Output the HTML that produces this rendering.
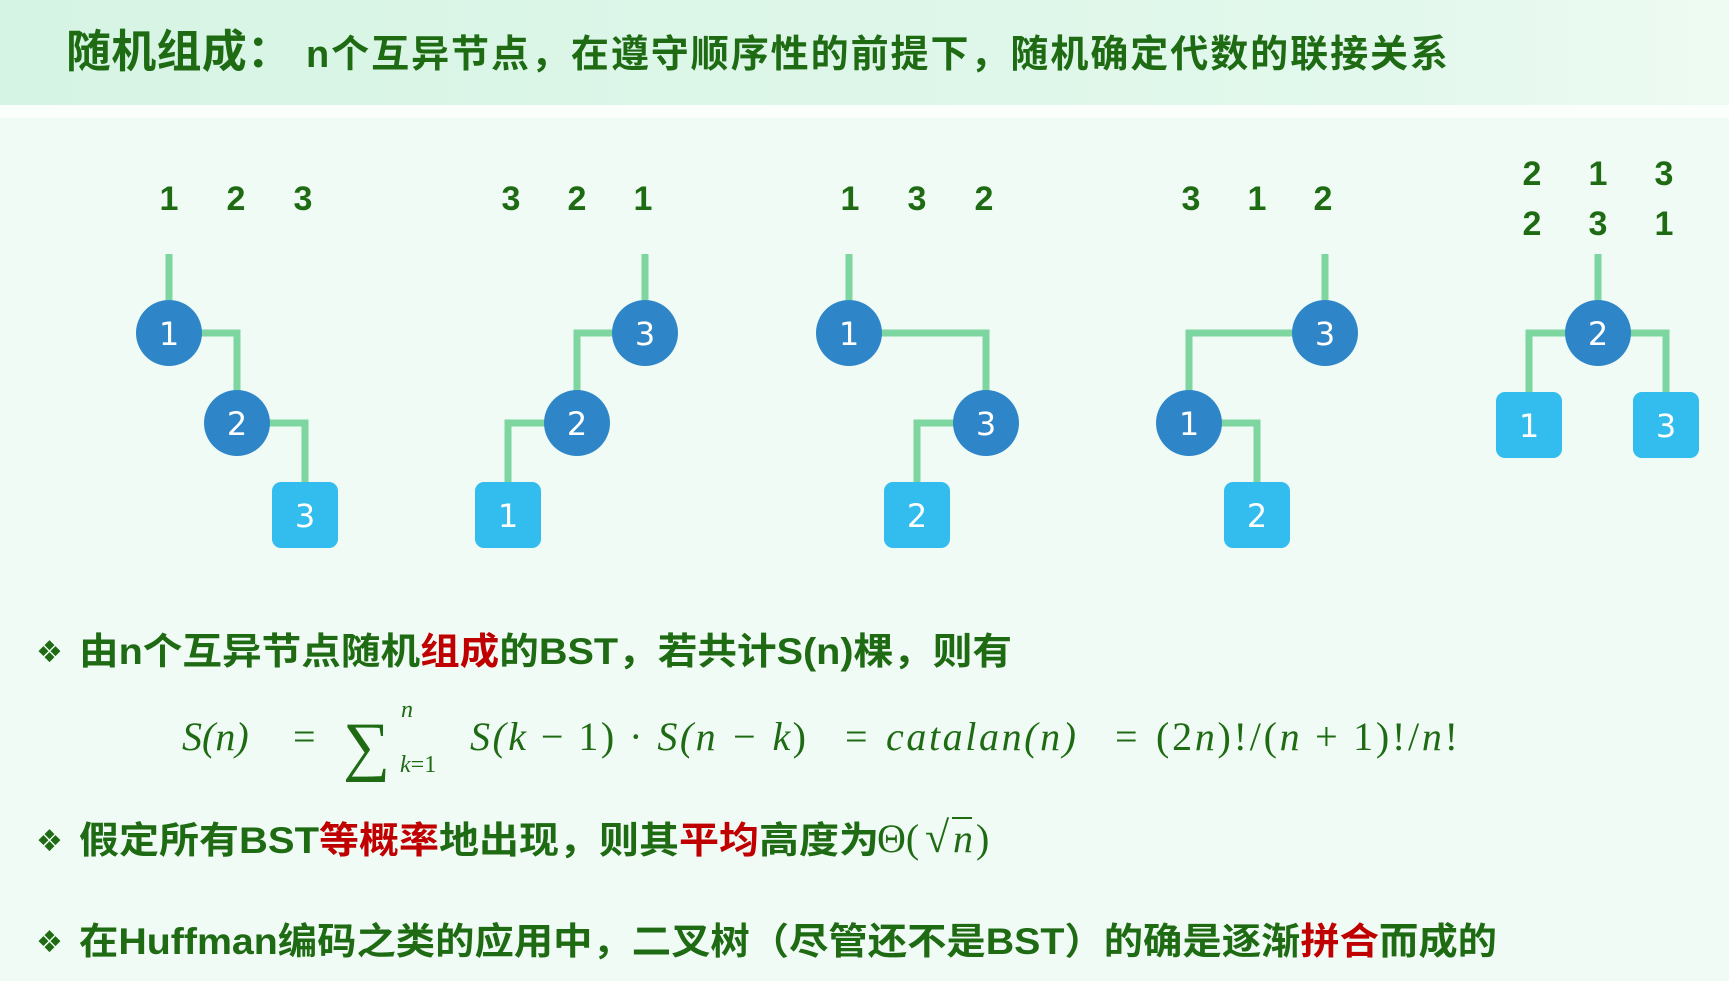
<!DOCTYPE html>
<html><head><meta charset="utf-8"><style>
html,body{margin:0;padding:0;}
body{width:1729px;height:981px;overflow:hidden;background:#f1fbf5;}
svg{display:block}
.cjk{font-family:"Liberation Sans","Noto Sans CJK SC",sans-serif;font-weight:bold;}
.g{fill:#1e6b14}
.r{fill:#c00000}
.m{font-family:"Liberation Serif","DejaVu Serif",serif;fill:#1e6b14;}
.lbl{font-family:"Liberation Sans","DejaVu Sans",sans-serif;font-weight:bold;font-size:34px;fill:#1e6b14;text-anchor:middle}
.nd{font-family:"DejaVu Sans","Liberation Sans",sans-serif;font-size:32px;fill:#fff;text-anchor:middle}
</style></head><body>
<svg width="1729" height="981" viewBox="0 0 1729 981">
<defs>
<linearGradient id="hd" x1="0" x2="1" y1="0" y2="0">
<stop offset="0" stop-color="#d6f4e4"/><stop offset="0.8" stop-color="#e2f8ec"/><stop offset="1" stop-color="#eefbf3"/>
</linearGradient>
</defs>
<rect x="0" y="0" width="1729" height="105" fill="url(#hd)"/>
<rect x="0" y="105" width="1729" height="13" fill="#fafffc"/>
<text class="cjk g" x="66" y="67"><tspan font-size="45" textLength="226">随机组成：</tspan><tspan font-size="38" x="306" textLength="1142">n个互异节点，在遵守顺序性的前提下，随机确定代数的联接关系</tspan></text>

<g stroke="#7dd6a0" stroke-width="7" fill="none">
<!-- tree1 -->
<path d="M169 254V300"/><path d="M190 333H237V395"/><path d="M258 423H305V485"/>
<!-- tree2 -->
<path d="M645 254V300"/><path d="M624 333H577V395"/><path d="M556 423H508V485"/>
<!-- tree3 -->
<path d="M849 254V300"/><path d="M870 333H986V395"/><path d="M965 423H917V485"/>
<!-- tree4 -->
<path d="M1325 254V300"/><path d="M1304 333H1189V395"/><path d="M1210 423H1257V485"/>
<!-- tree5 -->
<path d="M1598 254V300"/><path d="M1577 333H1529V395"/><path d="M1619 333H1666V395"/>
</g>

<g class="lbl">
<text x="169" y="210">1</text><text x="236" y="210">2</text><text x="303" y="210">3</text>
<text x="511" y="210">3</text><text x="577" y="210">2</text><text x="643" y="210">1</text>
<text x="850" y="210">1</text><text x="917" y="210">3</text><text x="984" y="210">2</text>
<text x="1191" y="210">3</text><text x="1257" y="210">1</text><text x="1323" y="210">2</text>
<text x="1532" y="185">2</text><text x="1598" y="185">1</text><text x="1664" y="185">3</text>
<text x="1532" y="235">2</text><text x="1598" y="235">3</text><text x="1664" y="235">1</text>
</g>

<g fill="#2e86c8">
<circle cx="169" cy="333" r="33"/><circle cx="237" cy="423" r="33"/>
<circle cx="645" cy="333" r="33"/><circle cx="577" cy="423" r="33"/>
<circle cx="849" cy="333" r="33"/><circle cx="986" cy="423" r="33"/>
<circle cx="1325" cy="333" r="33"/><circle cx="1189" cy="423" r="33"/>
<circle cx="1598" cy="333" r="33"/>
</g>
<g fill="#32bdee">
<rect x="272" y="482" width="66" height="66" rx="9"/>
<rect x="475" y="482" width="66" height="66" rx="9"/>
<rect x="884" y="482" width="66" height="66" rx="9"/>
<rect x="1224" y="482" width="66" height="66" rx="9"/>
<rect x="1496" y="392" width="66" height="66" rx="9"/>
<rect x="1633" y="392" width="66" height="66" rx="9"/>
</g>
<g class="nd">
<text x="169" y="345">1</text><text x="237" y="435">2</text><text x="305" y="527">3</text>
<text x="645" y="345">3</text><text x="577" y="435">2</text><text x="508" y="527">1</text>
<text x="849" y="345">1</text><text x="986" y="435">3</text><text x="917" y="527">2</text>
<text x="1325" y="345">3</text><text x="1189" y="435">1</text><text x="1257" y="527">2</text>
<text x="1598" y="345">2</text><text x="1529" y="437">1</text><text x="1666" y="437">3</text>
</g>

<g font-family="DejaVu Sans,sans-serif" font-size="30" fill="#1e6b14">
<text x="36" y="662">❖</text><text x="36" y="851">❖</text><text x="36" y="952">❖</text>
</g>

<text class="cjk g" x="79" y="664" font-size="37" textLength="933" lengthAdjust="spacingAndGlyphs">由n个互异节点随机<tspan class="r">组成</tspan>的BST，若共计S(n)棵，则有</text>

<g class="m" font-style="italic" font-size="40">
<text x="182" y="750">S(n)</text>
<text x="293" y="750" font-style="normal">=</text>
<text x="343" y="768" font-style="normal" font-size="66">∑</text>
<text x="401" y="717" font-size="24">n</text>
<text x="400" y="772" font-size="24">k<tspan font-style="normal">=1</tspan></text>
<text x="470" y="750" textLength="336">S(k <tspan font-style="normal">− 1) · </tspan>S(n − k<tspan font-style="normal">)</tspan></text>
<text x="845" y="750" font-style="normal">=</text>
<text x="886" y="750" textLength="190">catalan(n)</text>
<text x="1115" y="750" font-style="normal">=</text>
<text x="1156" y="750" font-style="normal" textLength="302">(2<tspan font-style="italic">n</tspan>)!/(<tspan font-style="italic">n</tspan> + 1)!/<tspan font-style="italic">n</tspan>!</text>
</g>

<text class="cjk g" x="79" y="853" font-size="37" textLength="800" lengthAdjust="spacingAndGlyphs">假定所有BST<tspan class="r">等概率</tspan>地出现，则其<tspan class="r">平均</tspan>高度为</text>
<g class="m" font-size="40">
<text x="877" y="852">Θ(</text>
<text x="925" y="852" font-size="44">√</text>
<path d="M952 818H972" stroke="#1e6b14" stroke-width="2"/>
<text x="953" y="852" font-style="italic">n</text>
<text x="976" y="852">)</text>
</g>

<text class="cjk g" x="79" y="954" font-size="37" textLength="1418" lengthAdjust="spacingAndGlyphs">在Huffman编码之类的应用中，二叉树（尽管还不是BST）的确是逐渐<tspan class="r">拼合</tspan>而成的</text>
</svg>
</body></html>
